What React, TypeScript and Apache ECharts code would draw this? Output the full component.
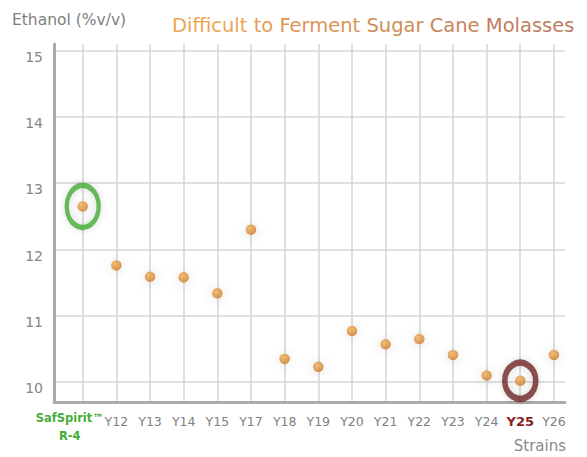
import React, { useEffect, useRef } from "react";
import * as echarts from "echarts";

// ---- data ----
const categories = ["SafSpirit™\nR-4", "Y12", "Y13", "Y14", "Y15", "Y17", "Y18", "Y19", "Y20", "Y21", "Y22", "Y23", "Y24", "Y25", "Y26"];
const ethanol = [12.65, 11.76, 11.59, 11.58, 11.34, 12.3, 10.35, 10.23, 10.77, 10.57, 10.65, 10.41, 10.1, 10.02, 10.41];
const referenceStrain = "SafSpirit™\nR-4";
const highlightStrain = "Y25";
const chartTitle = "Difficult to Ferment Sugar Cane Molasses";
const yAxisTitle = "Ethanol (%v/v)";
const xAxisTitle = "Strains";

const FONT = "DejaVu Sans";
const titleFrom = "#EDA552";
const titleTo = "#BF7D5E";

function lerpHex(a: string, b: string, t: number) {
  const pa = [1, 3, 5].map((k) => parseInt(a.slice(k, k + 2), 16));
  const pb = [1, 3, 5].map((k) => parseInt(b.slice(k, k + 2), 16));
  return "rgb(" + pa.map((v, k) => Math.round(v + (pb[k] - v) * t)).join(",") + ")";
}

export default function App() {
  const ref = useRef<HTMLDivElement>(null);
  useEffect(() => {
    if (!ref.current) return;
    const chart = echarts.init(ref.current, null, { renderer: "svg" });
    const points = categories.map((c, i) => [i, ethanol[i]]);
    const refIdx = categories.indexOf(referenceStrain);
    const hiIdx = categories.indexOf(highlightStrain);
    const dotColor = new echarts.graphic.RadialGradient(0.4, 0.35, 0.7, [
      { offset: 0, color: "#F5AF56" },
      { offset: 1, color: "#C77626" },
    ]);
    const words = chartTitle.split(" ");
    const rich: Record<string, any> = {};
    words.forEach((w, k) => {
      rich["w" + k] = {
        fontFamily: FONT,
        fontSize: 19.5,
        color: lerpHex(titleFrom, titleTo, k / (words.length - 1)),
      };
    });
    const titleText = words.map((w, k) => `{w${k}|${w}}`).join(`{w0| }`);
    chart.setOption({
      animation: false,
      backgroundColor: "#ffffff",
      title: [
        {
          text: yAxisTitle,
          left: 12,
          top: 12,
          padding: 0,
          textStyle: { fontFamily: FONT, fontSize: 15.5, fontWeight: "normal", color: "#808080" },
        },
        {
          text: titleText,
          left: 172,
          top: 15,
          padding: 0,
          textStyle: { fontFamily: FONT, fontSize: 19.5, fontWeight: "normal", rich },
        },
        {
          text: xAxisTitle,
          right: 21,
          top: 438,
          padding: 0,
          textStyle: { fontFamily: FONT, fontSize: 15, fontWeight: "normal", color: "#8a8a8a" },
        },
      ],
      grid: { left: 54, right: 22, top: 44, bottom: 55, containLabel: false },
      xAxis: {
        type: "value",
        min: -0.853,
        max: 14.33,
        splitNumber: 15,
        axisLine: { show: true, onZero: false, lineStyle: { color: "#ababab", width: 3 } },
        axisTick: { show: false },
        splitLine: { show: true, showMinLine: false, showMaxLine: false, lineStyle: { color: "#d6d6d6", width: 1.5 } },
        axisLabel: {
          show: true,
          showMinLabel: false,
          showMaxLabel: false,
          margin: 7,
          fontFamily: FONT,
          color: "#808080",
          formatter: (v: number) => {
            const i = Math.round(v);
            if (Math.abs(v - i) > 1e-6 || i < 0 || i >= categories.length) return "";
            const c = categories[i];
            if (i === refIdx) return c.split("\n").map((s) => `{g|${s}}`).join("\n");
            if (i === hiIdx) return `{r|${c}}`;
            return `{n|${c}}`;
          },
          rich: {
            n: { fontFamily: FONT, fontSize: 12.5, color: "#808080", lineHeight: 24 },
            g: { fontFamily: FONT, fontSize: 11.5, fontWeight: "bold", color: "#46AC38", lineHeight: 18, padding: [0, 26, 0, 0] },
            r: { fontFamily: FONT, fontSize: 13, fontWeight: "bold", color: "#8B1E22", lineHeight: 24 },
          },
        },
      },
      yAxis: {
        type: "value",
        min: 9.7,
        max: 15.1,
        splitNumber: 5,
        axisLine: { show: true, onZero: false, lineStyle: { color: "#ababab", width: 3 } },
        axisTick: { show: false },
        splitLine: { show: true, showMinLine: false, showMaxLine: false, lineStyle: { color: "#d6d6d6", width: 1.5 } },
        axisLabel: {
          showMinLabel: false,
          showMaxLabel: false,
          margin: 11,
          fontFamily: FONT,
          fontSize: 14,
          color: "#858585",
          verticalAlign: "top",
          lineHeight: 12,
          formatter: (v: number) => (Number.isInteger(Math.round(v * 1e6) / 1e6) ? String(Math.round(v)) : ""),
        },
      },
      series: [
        {
          type: "scatter",
          data: [
            { value: points[refIdx], symbolSize: [32, 42], itemStyle: { borderColor: "#43AB35", borderWidth: 5 } },
            { value: points[hiIdx], symbolSize: [31, 36], itemStyle: { borderColor: "#722424", borderWidth: 6 } },
          ],
          symbol: "circle",
          itemStyle: { color: "rgba(255,255,255,0)", shadowBlur: 6, shadowColor: "rgba(0,0,0,0.2)" },
          silent: true,
          z: 2,
        },
        {
          type: "scatter",
          data: points,
          symbol: "circle",
          symbolSize: 10.5,
          itemStyle: { color: dotColor, shadowBlur: 12, shadowColor: "rgba(0,0,0,0.18)", shadowOffsetY: 1 },
          z: 3,
        },
      ],
    });
    return () => chart.dispose();
  }, []);
  return <div ref={ref} style={{ position: "fixed", left: 0, top: 0, width: 587, height: 457 }} />;
}
